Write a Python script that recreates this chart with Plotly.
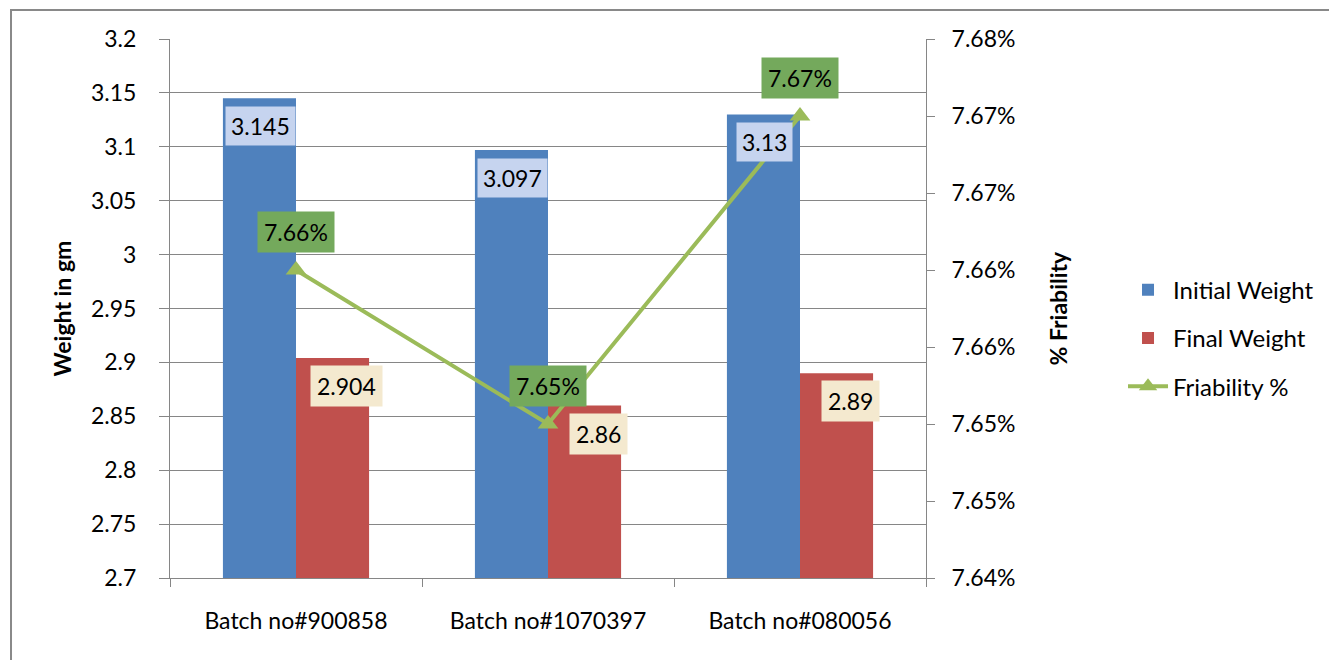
import plotly.graph_objects as go

categories = ["Batch no#900858", "Batch no#1070397", "Batch no#080056"]
initial_weight = [3.145, 3.097, 3.13]
final_weight = [2.904, 2.86, 2.89]
friability = [7.66, 7.65, 7.67]
friability_labels = ["7.66%", "7.65%", "7.67%"]

left_ticks = [2.7, 2.75, 2.8, 2.85, 2.9, 2.95, 3.0, 3.05, 3.1, 3.15, 3.2]
left_ticktext = ["2.7", "2.75", "2.8", "2.85", "2.9", "2.95", "3", "3.05", "3.1", "3.15", "3.2"]
right_ticks = [7.64, 7.645, 7.65, 7.655, 7.66, 7.665, 7.67, 7.675]
right_ticktext = ["7.64%", "7.65%", "7.65%", "7.66%", "7.66%", "7.67%", "7.67%", "7.68%"]

FONT = "Lato"
GRAY = "#868686"
BLUE = "#4f81bd"
RED = "#c0504d"
GREEN = "#9bbb59"

fig = go.Figure()
fig.add_trace(go.Bar(x=categories, y=initial_weight, name="Initial Weight",
                     marker=dict(color=BLUE, line=dict(width=0)),
                     legendgroup="a"))
fig.add_trace(go.Bar(x=categories, y=final_weight, name="Final Weight",
                     marker=dict(color=RED, line=dict(width=0)),
                     legendgroup="b"))
fig.add_trace(go.Scatter(x=categories, y=friability, name="Friability %", yaxis="y2",
                         mode="lines+markers",
                         line=dict(color=GREEN, width=4),
                         marker=dict(symbol="triangle-up", size=18, color=GREEN),
                         legendgroup="c"))

annotations = []
for c, v in zip(categories, initial_weight):
    annotations.append(dict(x=c, y=v, xref="x", yref="y", text=f"{v:g}", showarrow=False,
                            xshift=-36, yshift=-28, bgcolor="#c6d4ef", borderpad=5,
                            font=dict(family=FONT, size=23, color="black")))
for c, v in zip(categories, final_weight):
    annotations.append(dict(x=c, y=v, xref="x", yref="y", text=f"{v:g}", showarrow=False,
                            xshift=50, yshift=-28, bgcolor="#f4e9cf", borderpad=6,
                            font=dict(family=FONT, size=23, color="black")))
for c, v, t in zip(categories, friability, friability_labels):
    annotations.append(dict(x=c, y=v, xref="x", yref="y2", text=t, showarrow=False,
                            yshift=38, bgcolor="#74a95c", borderpad=6,
                            font=dict(family=FONT, size=23, color="black")))

annotations.append(dict(x=-0.1429, y=0.5, xref="paper", yref="paper", text="<b>Weight in gm</b>",
                        textangle=-90, showarrow=False, xanchor="center", yanchor="middle",
                        font=dict(family=FONT, size=23, color="black")))
annotations.append(dict(x=1.1733, y=0.5, xref="paper", yref="paper", text="<b>% Friability</b>",
                        textangle=-90, showarrow=False, xanchor="center", yanchor="middle",
                        font=dict(family=FONT, size=23, color="black")))

fig.update_layout(
    width=1337, height=660,
    margin=dict(l=162, r=419, t=31, b=90),
    paper_bgcolor="white", plot_bgcolor="white",
    barmode="group", bargap=0.42, bargroupgap=0,
    font=dict(family=FONT, size=23, color="black"),
    showlegend=True,
    legend=dict(x=1.2606, y=0.445, xanchor="left", yanchor="middle",
                font=dict(family=FONT, size=24, color="black"),
                traceorder="grouped", tracegroupgap=14, itemwidth=40,
                bgcolor="rgba(0,0,0,0)"),
    xaxis=dict(showline=True, linecolor=GRAY, linewidth=1, ticks="outside",
               tickson="boundaries", ticklen=8, tickcolor=GRAY, showgrid=False,
               ticklabelstandoff=22,
               tickfont=dict(family=FONT, size=23, color="black")),
    yaxis=dict(range=[2.7, 3.2], tickvals=left_ticks, ticktext=left_ticktext,
               showline=True, linecolor=GRAY, linewidth=1, ticks="outside",
               ticklen=10, tickcolor=GRAY, showgrid=True, gridcolor=GRAY, gridwidth=1,
               zeroline=False, ticklabelstandoff=18,
               tickfont=dict(family=FONT, size=23, color="black")),
    yaxis2=dict(range=[7.64, 7.675], tickvals=right_ticks, ticktext=right_ticktext,
                overlaying="y", side="right", showline=True, linecolor=GRAY, linewidth=1,
                ticks="outside", ticklen=8, tickcolor=GRAY, showgrid=False, zeroline=False,
                ticklabelstandoff=12,
                tickfont=dict(family=FONT, size=23, color="black")),
    annotations=annotations,
    shapes=[dict(type="rect", xref="paper", yref="paper",
                 x0=-0.2103, x1=1.56, y0=-0.17, y1=1.0538,
                 line=dict(color="#898989", width=2), layer="below")],
)

fig.write_html("out.html")
